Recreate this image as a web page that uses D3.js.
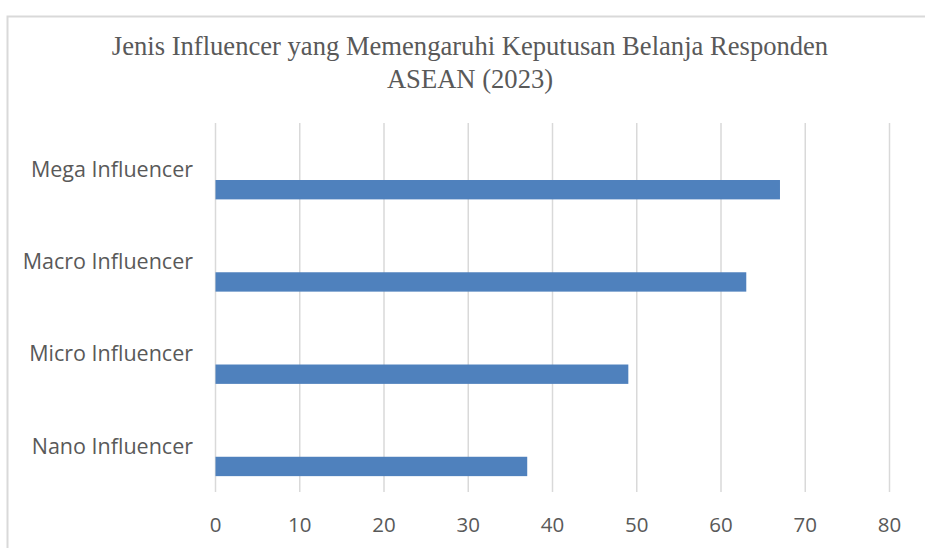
<!DOCTYPE html>
<html>
<head>
<meta charset="utf-8">
<script src="https://cdn.jsdelivr.net/npm/d3@7"></script>
<style>
  html, body { margin: 0; padding: 0; background: #ffffff; }
  svg { display: block; }
</style>
</head>
<body>
<div id="chart"></div>
<script>
// Data (top-to-bottom order as drawn)
const categories = ['Mega Influencer', 'Macro Influencer', 'Micro Influencer', 'Nano Influencer'];
const values = [67, 63, 49, 37];
const xTicks = [0, 10, 20, 30, 40, 50, 60, 70, 80];
const titleLines = ['Jenis Influencer yang Memengaruhi Keputusan Belanja Responden', 'ASEAN (2023)'];

const width = 925;
const height = 548;
const margin = { top: 123, right: 35.5, bottom: 56, left: 215.5 };
const textColor = '#595959';
const gridColor = '#d9d9d9';
const barColor = '#4f81bd';

const svg = d3.select('#chart').append('svg')
    .attr('width', width)
    .attr('height', height);

// Chart area border (runs off the bottom/right edge like the original)
svg.append('rect')
    .attr('x', 7.5)
    .attr('y', 16.5)
    .attr('width', width)
    .attr('height', height)
    .attr('fill', '#ffffff')
    .attr('stroke', gridColor)
    .attr('stroke-width', 2);

// Title
svg.append('g')
    .selectAll('text')
    .data(titleLines)
    .enter()
    .append('text')
    .attr('x', 470)
    .attr('y', (d, i) => 55 + i * 33)
    .attr('text-anchor', 'middle')
    .style('font-family', '"Liberation Serif", "Times New Roman", serif')
    .style('font-size', '26.6px')
    .style('fill', textColor)
    .text(d => d);

// Scales
const xScale = d3.scaleLinear()
    .domain([0, 80])
    .range([margin.left, width - margin.right]);

const yScale = d3.scaleBand()
    .domain(categories)
    .range([margin.top, height - margin.bottom])
    .padding(0);

// Vertical grid lines
svg.append('g')
    .selectAll('line')
    .data(xTicks)
    .enter()
    .append('line')
    .attr('x1', d => xScale(d))
    .attr('x2', d => xScale(d))
    .attr('y1', margin.top)
    .attr('y2', height - margin.bottom)
    .attr('stroke', gridColor)
    .attr('stroke-width', 1.5);

// Bars sit in the lower part of each category band
const bw = yScale.bandwidth();
svg.append('g')
    .selectAll('rect')
    .data(categories)
    .enter()
    .append('rect')
    .attr('x', xScale(0))
    .attr('y', d => yScale(d) + bw * 0.618)
    .attr('width', (d, i) => xScale(values[i]) - xScale(0))
    .attr('height', bw * 0.21)
    .attr('fill', barColor);

// X tick labels
svg.append('g')
    .selectAll('text')
    .data(xTicks)
    .enter()
    .append('text')
    .attr('x', d => xScale(d))
    .attr('y', 532)
    .attr('text-anchor', 'middle')
    .style('font-family', '"Open Sans", "Noto Sans", sans-serif')
    .style('font-size', '20.5px')
    .style('fill', textColor)
    .text(d => d);

// Category labels
svg.append('g')
    .selectAll('text')
    .data(categories)
    .enter()
    .append('text')
    .attr('x', 193)
    .attr('y', d => yScale(d) + bw / 2)
    .attr('dy', '0.36em')
    .attr('text-anchor', 'end')
    .style('font-family', '"Open Sans", "Noto Sans", sans-serif')
    .style('font-size', '21.5px')
    .style('fill', textColor)
    .text(d => d);
</script>
</body>
</html>
